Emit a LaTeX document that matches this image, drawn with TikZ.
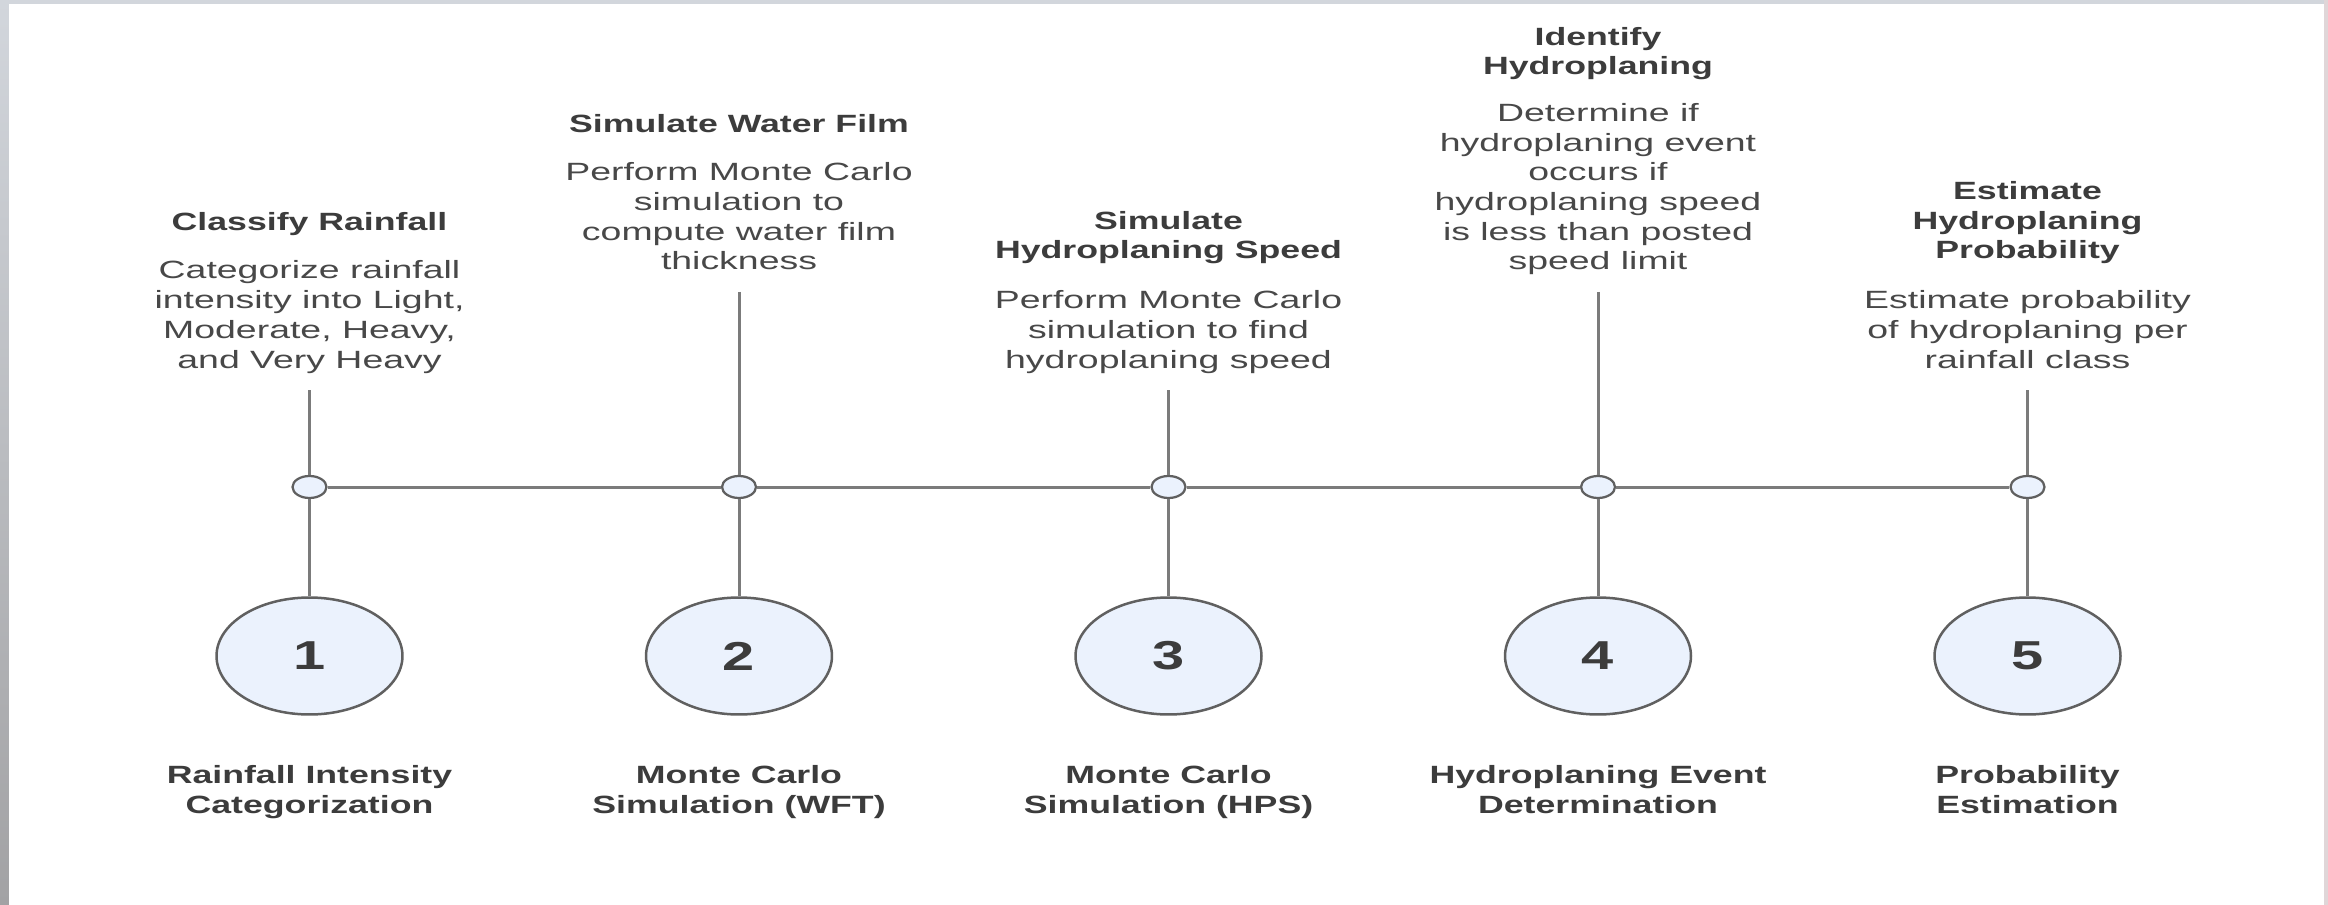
\documentclass[tikz,border=0pt]{standalone}
\usepackage{fontspec}
\setmainfont{Liberation Sans}[FakeStretch=1.5,BoldFeatures={FakeStretch=1.43}]
\usetikzlibrary{shapes.geometric}
\definecolor{frametop}{HTML}{D2D6DC}
\definecolor{frameleft}{HTML}{A2A2A4}
\definecolor{frameright}{HTML}{E0D6D8}
\definecolor{wire}{HTML}{7B7B7B}
\definecolor{rim}{HTML}{606060}
\definecolor{disc}{HTML}{EBF2FD}
\definecolor{ink}{HTML}{3C3C3C}
\definecolor{inksoft}{HTML}{484848}
\tikzset{
  wireline/.style={draw=wire,line width=0.06cm},
  hub/.style={ellipse,draw=rim,fill=disc,line width=0.045cm,minimum width=0.68cm,minimum height=0.44cm,inner sep=0pt},
  stepdisc/.style={ellipse,draw=rim,fill=disc,line width=0.05cm,minimum width=3.72cm,minimum height=2.34cm,inner sep=0pt,
    font=\fontsize{23pt}{27pt}\selectfont\bfseries,text=ink},
  % multi-line captions are placed by the baseline of their last line
  headtext/.style={anchor=base,align=center,inner sep=0pt,text=ink,font=\fontsize{14.2pt}{16.9pt}\selectfont\bfseries},
  bodytext/.style={anchor=base,align=center,inner sep=0pt,text=inksoft,font=\fontsize{14.2pt}{16.9pt}\selectfont},
}
\begin{document}
\begin{tikzpicture}[x=0.02cm,y=-0.02cm]
\useasboundingbox (0,0) rectangle (2328,905);
% frame and page
\fill[frametop] (0,0) rectangle (2328,4);
\shade[top color=frametop,bottom color=frameleft] (0,0) rectangle (9,905);
\fill[frameright] (2324,0) rectangle (2328,905);
\fill[white] (9,4) rectangle (2324,905);

% anchors of the upper stems
\coordinate (t1) at (309.5,390);
\coordinate (t2) at (739,292);
\coordinate (t3) at (1168.5,390);
\coordinate (t4) at (1598,292);
\coordinate (t5) at (2027.5,390);

% step discs
\node[stepdisc] (s1) at (309.5,656) {1};
\node[stepdisc] (s2) at (739,656) {2};
\node[stepdisc] (s3) at (1168.5,656) {3};
\node[stepdisc] (s4) at (1598,656) {4};
\node[stepdisc] (s5) at (2027.5,656) {5};

% hubs on the timeline
\node[hub] (h1) at (309.5,487) {};
\node[hub] (h2) at (739,487) {};
\node[hub] (h3) at (1168.5,487) {};
\node[hub] (h4) at (1598,487) {};
\node[hub] (h5) at (2027.5,487) {};

% stems and timeline
\foreach \i in {1,...,5}{
  \draw[wireline] (t\i) -- (h\i);
  \draw[wireline] (h\i) -- (s\i);
}
\draw[wireline] (h1) -- (h2);
\draw[wireline] (h2) -- (h3);
\draw[wireline] (h3) -- (h4);
\draw[wireline] (h4) -- (h5);

% upper captions
\node[headtext] (a1) at (309.5,231) {Classify Rainfall};
\node[bodytext] (b1) at (309.5,368) {Categorize rainfall\\intensity into Light,\\Moderate, Heavy,\\and Very Heavy};

\node[headtext] (a2) at (739,133) {Simulate Water Film};
\node[bodytext] (b2) at (739,270) {Perform Monte Carlo\\simulation to\\compute water film\\thickness};

\node[headtext] (a3) at (1168.5,259) {Simulate\\Hydroplaning Speed};
\node[bodytext] (b3) at (1168.5,368) {Perform Monte Carlo\\simulation to find\\hydroplaning speed};

\node[headtext] (a4) at (1598,75) {Identify\\Hydroplaning};
\node[bodytext] (b4) at (1598,270) {Determine if\\hydroplaning event\\occurs if\\hydroplaning speed\\is less than posted\\speed limit};

\node[headtext] (a5) at (2027.5,259) {Estimate\\Hydroplaning\\Probability};
\node[bodytext] (b5) at (2027.5,368) {Estimate probability\\of hydroplaning per\\rainfall class};

% lower captions
\node[headtext] (c1) at (309.5,813) {Rainfall Intensity\\Categorization};
\node[headtext] (c2) at (739,813) {Monte Carlo\\Simulation (WFT)};
\node[headtext] (c3) at (1168.5,813) {Monte Carlo\\Simulation (HPS)};
\node[headtext] (c4) at (1598,813) {Hydroplaning Event\\Determination};
\node[headtext] (c5) at (2027.5,813) {Probability\\Estimation};
\end{tikzpicture}
\end{document}
